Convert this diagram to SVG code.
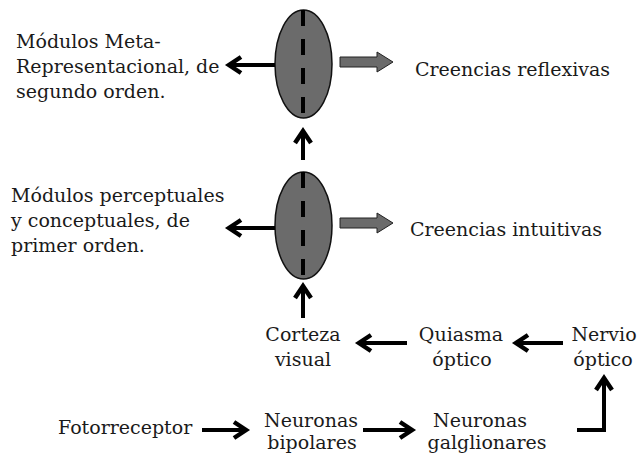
<svg xmlns="http://www.w3.org/2000/svg" width="639" height="458" viewBox="0 0 639 458">
<defs>
<style>
text{font-family:"DejaVu Serif","Liberation Serif",serif;font-size:19px;fill:#1a1a1a}
.m{text-anchor:middle}
.ln{stroke:#000;stroke-width:4;fill:none}
.ell{fill:#6b6b6b;stroke:#111;stroke-width:1.5}
.dash{stroke:#000;stroke-width:4;stroke-dasharray:16 13}
.blk{fill:#6b6b6b;stroke:#222;stroke-width:1}
</style>
<marker id="ah" markerUnits="userSpaceOnUse" markerWidth="30" markerHeight="30" refX="0" refY="0" orient="auto" overflow="visible">
<path d="M-12,-8 L0,0 L-12,8" fill="none" stroke="#000" stroke-width="4.5" stroke-linejoin="miter"/>
</marker>
</defs>
<rect width="639" height="458" fill="#fff"/>
<g id="ellipse-top">
<ellipse class="ell" cx="303.5" cy="64" rx="28.5" ry="54"/>
<line class="dash" x1="303" y1="10" x2="303" y2="118"/>
</g>
<g id="ellipse-bottom">
<ellipse class="ell" cx="303.5" cy="225.5" rx="28.5" ry="53.5"/>
<line class="dash" x1="303" y1="172" x2="303" y2="279"/>
</g>
<g id="meta">
<text x="16" y="48">Módulos Meta-</text>
<text x="16" y="73">Representacional, de</text>
<text x="16" y="98">segundo orden.</text>
</g>
<g id="reflexivas"><text x="415" y="76">Creencias reflexivas</text></g>
<g id="perceptuales">
<text x="11" y="202">Módulos perceptuales</text>
<text x="11" y="227">y conceptuales, de</text>
<text x="11" y="252">primer orden.</text>
</g>
<g id="intuitivas"><text x="410" y="236">Creencias intuitivas</text></g>
<g id="corteza"><text class="m" x="303" y="341">Corteza</text><text class="m" x="303" y="366">visual</text></g>
<g id="quiasma"><text class="m" x="461" y="341">Quiasma</text><text class="m" x="462" y="366">óptico</text></g>
<g id="nervio"><text class="m" x="604" y="341">Nervio</text><text class="m" x="603" y="366">óptico</text></g>
<g id="fotorreceptor"><text x="58" y="434">Fotorreceptor</text></g>
<g id="bipolares"><text class="m" x="311" y="427">Neuronas</text><text class="m" x="312" y="449">bipolares</text></g>
<g id="galglionares"><text class="m" x="480" y="427">Neuronas</text><text class="m" x="487" y="449">galglionares</text></g>
<g id="connectors">
<line class="ln" x1="275" y1="65" x2="229" y2="65" marker-end="url(#ah)"/>
<line class="ln" x1="275" y1="228" x2="229" y2="228" marker-end="url(#ah)"/>
<polygon class="blk" points="340,57 377,57 377,52 393,62 377,72 377,67 340,67"/>
<polygon class="blk" points="340,218 377,218 377,213 393,223 377,233 377,228 340,228"/>
<line class="ln" x1="303" y1="160" x2="303" y2="131" marker-end="url(#ah)"/>
<line class="ln" x1="303" y1="318" x2="303" y2="286" marker-end="url(#ah)"/>
<line class="ln" x1="407" y1="343" x2="359" y2="343" marker-end="url(#ah)"/>
<line class="ln" x1="563" y1="343" x2="516" y2="343" marker-end="url(#ah)"/>
<line class="ln" x1="202" y1="430" x2="246" y2="430" marker-end="url(#ah)"/>
<line class="ln" x1="363" y1="430" x2="412" y2="430" marker-end="url(#ah)"/>
<polyline class="ln" points="577,430 604,430 604,378" stroke-linejoin="miter" marker-end="url(#ah)"/>
</g>
</svg>
